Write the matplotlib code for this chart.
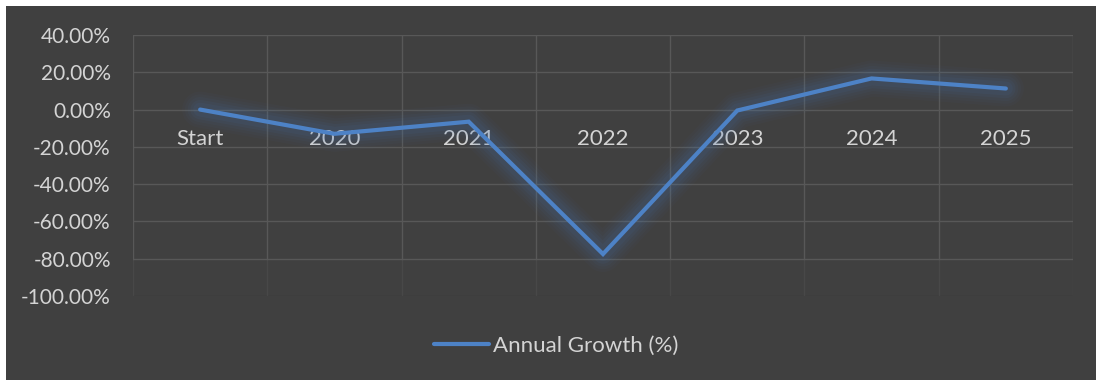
import matplotlib
matplotlib.use("Agg")
import matplotlib.pyplot as plt
import numpy as np
from matplotlib.patches import Rectangle

# Data
categories = ["Start", "2020", "2021", "2022", "2023", "2024", "2025"]
growth_pct = [0.0, -13.0, -6.5, -77.5, -0.5, 16.7, 11.3]
y_ticks = [40, 20, 0, -20, -40, -60, -80, -100]
series_name = "Annual Growth (%)"

BG = "#404040"
GRID = "#585858"
TEXT = "#d4d4d4"
LINE = "#4d82c6"
GLOW = "#4a78b4"
FONT = ["Lato", "DejaVu Sans"]
FS_TICK = 15
FS_CAT = 16

plt.rcParams["font.family"] = FONT

W, H = 1096, 380
fig = plt.figure(figsize=(W / 100, H / 100), dpi=100, facecolor="white")

# dark chart panel with a thin white margin top/left
panel = Rectangle((6 / W, 0), 1 - 6 / W, (H - 6) / H,
                  transform=fig.transFigure, facecolor=BG,
                  edgecolor="none", zorder=-10)
fig.add_artist(panel)

ax = fig.add_axes([133 / W, (H - 296) / H, 940 / W, 261 / H])
ax.set_zorder(1)
ax.patch.set_visible(False)

n = len(categories)
x = np.arange(n)
ax.set_xlim(-0.5, n - 0.5)
ax.set_ylim(-100, 40)

# gridlines
for yv in y_ticks:
    if yv == -100:
        ax.axhline(yv, color="#3a3a3a", lw=1.0, zorder=1)
    else:
        ax.axhline(yv, color=GRID, lw=1.0, zorder=1)
for b in np.arange(n + 1) - 0.5:
    ax.plot([b, b], [-80, 40], color=GRID, lw=1.0, zorder=1)
    ax.plot([b, b], [-100, -80], color=GRID, lw=1.0, alpha=0.35, zorder=1)

for s in ax.spines.values():
    s.set_visible(False)
ax.set_xticks([])
ax.set_yticks(y_ticks)
ax.set_yticklabels([f"{v:.2f}%" for v in y_ticks])
ax.tick_params(axis="y", length=0, pad=16, labelsize=FS_TICK, labelcolor=TEXT)

# category labels sit just under the zero line
for xi, lab in zip(x, categories):
    ax.text(xi, -16.0, lab, ha="center", va="center", fontsize=FS_CAT,
            color=TEXT, zorder=2)

# soft glow under the line
for lw, a in [(26, 0.035), (22, 0.045), (18, 0.055), (14, 0.07), (10, 0.08)]:
    ax.plot(x, growth_pct, color=GLOW, lw=lw, alpha=a,
            solid_capstyle="round", solid_joinstyle="round", zorder=3)
line, = ax.plot(x, growth_pct, color=LINE, lw=3.0, solid_capstyle="round",
                solid_joinstyle="miter", zorder=4, label=series_name)

leg = fig.legend(handles=[line], loc="center", bbox_to_anchor=(556 / W, 1 - 346 / H),
                 frameon=False, fontsize=FS_CAT, handlelength=2.5, handletextpad=0.18,
                 labelcolor=TEXT)

fig.savefig("out.png", dpi=100, facecolor="white")
